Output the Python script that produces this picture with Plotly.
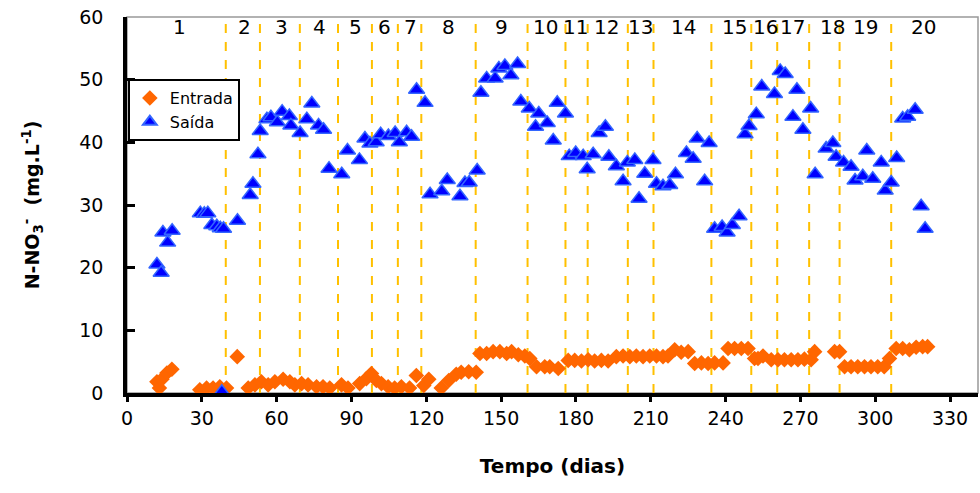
import plotly.graph_objects as go

# Saída (N-NO3- effluent)
saida_dia = [12, 13.7, 14.4, 16.3, 18.1, 29.4, 31, 32.4, 34, 36, 37.4, 38.7, 38, 44.3,
             49.4, 50.5, 52.5, 53.4, 56.1, 57.7, 60.3, 62.2, 65.1, 65.7, 69.4, 72.1, 74.1,
             76.8, 78.8, 81, 86.1, 88.4, 93.2, 95.4, 97.4, 99.9, 101.7, 104.8, 107.5, 109.2,
             112.1, 114.1, 116.1, 119.5, 121.5, 126.2, 128.4, 133.5, 135.5, 137.2, 140.4,
             141.9, 144.2, 147.6, 149.1, 151.5, 153.9, 156.6, 157.9, 161.3, 163.8, 165.1,
             168.5, 170.9, 172.5, 175.8, 177.3, 179.9, 182.9, 184.5, 186.9, 189.3, 191.8,
             193.2, 196.2, 198.9, 200.6, 203.6, 205.3, 207.6, 210.9, 212.3, 214.9, 217.6,
             219.9, 224.3, 227, 228.6, 231.6, 233.4, 235.6, 238.6, 240.6, 242.7, 245.4,
             247.8, 249.4, 252.3, 254.5, 259.6, 261.9, 263.9, 267, 268.6, 271, 274.1, 275.9,
             280.3, 283, 284.3, 287.3, 290.3, 291.9, 295, 296.6, 299, 302.4, 304, 306.4,
             308.6, 311, 313, 316, 318.4, 320]
saida_val = [20.5, 19.2, 25.6, 24.0, 25.9, 28.7, 28.6, 28.7, 26.8, 26.6, 26.3, 26.2, 0.2, 27.5,
             31.6, 33.4, 38.1, 41.8, 43.7, 44.0, 43.2, 44.9, 44.2, 42.7, 41.5, 43.7, 46.2,
             42.7, 42.0, 35.8, 34.9, 38.7, 37.2, 40.6, 39.8, 40.0, 41.3, 41.0, 41.5, 40.0,
             41.6, 40.9, 48.4, 46.3, 31.7, 32.2, 34.0, 31.4, 33.5, 33.6, 35.5,
             47.9, 50.2, 50.2, 51.8, 52.2, 50.7, 52.5, 46.5, 45.4, 42.5, 44.6,
             43.1, 40.3, 46.3, 44.6, 37.8, 38.3, 37.8, 35.7, 38.1, 41.5, 42.5,
             37.7, 36.2, 33.8, 36.8, 37.2, 31.0, 35.0, 37.2, 33.4, 33.0, 33.2,
             34.9, 38.3, 37.4, 40.6, 33.8, 39.9, 26.2, 26.5, 25.6, 26.8, 28.2,
             41.3, 42.6, 44.5, 48.9, 47.7, 51.4, 50.9, 44.1, 48.4, 42.0, 45.4, 34.9,
             39.0, 39.9, 37.7, 36.8, 36.1, 33.9, 34.6, 38.7, 34.2, 36.8, 32.3, 33.6,
             37.5, 43.8, 44.1, 45.2, 29.8, 26.2]

# Entrada (influent)
entrada_dia = [12, 13, 14, 16, 18, 29.2, 31.9, 34.5, 37.2, 39.9, 44.2,
               48.6, 51.3, 53.9, 56.6, 59.3, 62.6, 65.3, 67.3, 70, 72.6, 76, 78.6, 81.3, 86,
               88.6, 93.3, 96, 98, 100, 102, 104.7, 107.3, 110, 113.3, 116, 119, 121, 126,
               129, 132, 134, 137, 140,
               141.5, 144.2, 146.8, 149.5, 152.2, 154.2, 156.9, 159.5, 161.5, 164.2, 167.5,
               169.5, 172.9, 176.9, 179.5, 182.2, 184.9, 187.5, 190.2, 192.9, 196.2, 198.9,
               201.6, 204.2, 206.9, 209.6, 212.3, 214.9, 216.9, 219.6, 222.2, 225, 227.6,
               230.3, 233, 235.6, 239, 241, 243.6, 246.3, 249, 251.6, 253, 255, 258.3, 261,
               263.6, 266.3, 269, 271.6, 274.3, 275.7, 283.7, 285.7, 287.7, 290.3, 293,
               295.7, 298.3, 301, 303.6, 305.7, 308.4, 311, 313.7, 316.4, 319, 321]
entrada_val = [1.8, 0.8, 2.2, 3.2, 3.8, 0.5, 0.8, 0.8, 1.0, 0.8, 5.8,
               0.8, 1.3, 1.8, 1.3, 1.8, 2.2, 1.8, 1.3, 1.5, 1.3, 1.0, 1.0, 0.8, 1.3,
               0.8, 1.5, 2.3, 3.1, 2.0, 1.5, 1.0, 0.8, 1.0, 0.8, 2.8, 1.2, 2.2, 0.8,
               2.0, 3.0, 3.3, 3.4, 3.3,
               6.3, 6.3, 6.6, 6.6, 6.3, 6.6, 6.1, 5.9, 5.5, 4.2, 4.2,
               4.2, 3.9, 5.2, 5.2, 5.1, 5.3, 5.1, 5.2, 5.1, 5.8, 5.9,
               5.8, 5.9, 5.8, 5.9, 5.9, 5.8, 5.9, 6.9, 6.5, 6.6, 4.7,
               4.8, 4.7, 4.8, 4.8, 7.1, 7.1, 7.1, 7.1, 5.5, 5.5, 5.9, 5.3, 5.3,
               5.3, 5.3, 5.3, 5.4, 5.3, 6.6, 6.6, 6.6, 4.2, 4.2, 4.2,
               4.2, 4.2, 4.2, 4.2, 5.5, 7.1, 7.1, 6.9, 7.3, 7.4, 7.4]

# phase boundaries (days) and phase labels
limites = [39.6, 53.3, 69.3, 84.6, 98.2, 108.6, 118, 139.8, 160.6, 175.8, 184.7,
           200.8, 211.1, 234.3, 250.3, 260.7, 273.5, 285.7, 306.4]
fases = [str(i) for i in range(1, 21)]
fase_pos = [21.2, 47.3, 62.1, 77.3, 91.7, 103.3, 113.7, 129, 150.2, 167.8, 179.8,
            192.2, 205.8, 223.1, 243.5, 255.9, 266.7, 282.7, 295.9, 319.2]

x_ticks = list(range(0, 331, 30))
y_ticks = list(range(0, 61, 10))

FONT = 'DejaVu Sans, Arial'

fig = go.Figure()

fig.add_trace(go.Scatter(x=entrada_dia, y=entrada_val, mode='markers', name='Entrada',
                         marker=dict(symbol='diamond', size=12, color='#FF6600')))
fig.add_trace(go.Scatter(x=saida_dia, y=saida_val, mode='markers', name='Saída',
                         marker=dict(symbol='triangle-up', size=14, color='#0000FF',
                                     line=dict(color='#3366FF', width=1.5))))

for d in limites:
    fig.add_shape(type='line', x0=d, x1=d, y0=0, y1=60, xref='x', yref='y',
                  line=dict(color='#FFC000', width=2, dash='dash'), layer='below')

for lab, pos in zip(fases, fase_pos):
    fig.add_annotation(x=pos, y=58.4, text=lab, showarrow=False,
                       font=dict(family=FONT, size=20, color='black'))

# thin grey frame (top/right)
fig.add_shape(type='rect', xref='paper', yref='paper', x0=0, x1=1, y0=0, y1=1,
              line=dict(color='#999999', width=1.5), layer='below')

fig.update_layout(
    width=980, height=493,
    margin=dict(l=127, r=2, t=17, b=100),
    plot_bgcolor='white', paper_bgcolor='white',
    font=dict(family=FONT, size=19, color='black'),
    showlegend=True,
    legend=dict(x=0.001, y=0.835, xanchor='left', yanchor='top',
                bordercolor='black', borderwidth=2, bgcolor='white',
                font=dict(size=16), itemsizing='constant',
                tracegroupgap=0, itemwidth=30),
    xaxis=dict(range=[0, 341.2], tickvals=x_ticks, showgrid=False, zeroline=False,
               showline=True, linecolor='black', linewidth=4, automargin=False,
               ticks='outside', ticklen=5, tickwidth=3, tickcolor='black',
               ticklabeloverflow='allow',
               title=dict(text='<b>Tempo (dias)</b>', font=dict(size=20), standoff=32),
               tickfont=dict(size=19)),
    yaxis=dict(range=[0, 60], tickvals=y_ticks, showgrid=False, zeroline=False,
               showline=True, linecolor='black', linewidth=3.5, automargin=False,
               ticks='inside', ticklen=8, tickwidth=3, tickcolor='black',
               ticklabelstandoff=16, ticklabeloverflow='allow',
               title=dict(text='<b>N-NO<sub>3</sub><sup>-</sup>  (mg.L<sup>-1</sup>)</b>',
                          font=dict(size=19), standoff=36),
               tickfont=dict(size=19)),
)

# drop the default 8px page margin so the figure fills the window
fig.write_html("out.html", config={'displayModeBar': False},
               post_script="document.body.style.margin='0';")
